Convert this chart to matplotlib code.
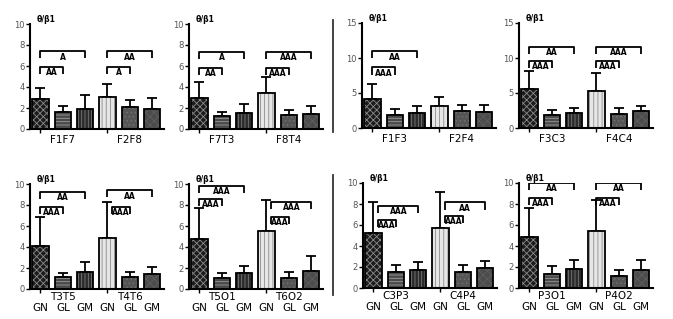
import matplotlib
matplotlib.use("Agg")
import matplotlib.pyplot as plt
from matplotlib.lines import Line2D

W, H = 673, 319

group_names = [
    ("F1F7", "F2F8"), ("F7T3", "F8T4"), ("F1F3", "F2F4"), ("F3C3", "F4C4"),
    ("T3T5", "T4T6"), ("T5O1", "T6O2"), ("C3P3", "C4P4"), ("P3O1", "P4O2"),
]
bar_names = ["GN", "GL", "GM"]
y_max = [10, 10, 15, 15, 10, 10, 10, 10]

means = [
    [2.9, 1.65, 1.95, 3.05, 2.05, 1.9],
    [3.0, 1.2, 1.55, 3.4, 1.3, 1.45],
    [4.1, 1.85, 2.1, 3.2, 2.4, 2.3],
    [5.55, 1.8, 2.2, 5.3, 2.0, 2.45],
    [4.05, 1.1, 1.6, 4.9, 1.1, 1.4],
    [4.8, 1.05, 1.5, 5.55, 1.05, 1.75],
    [5.25, 1.5, 1.75, 5.7, 1.5, 1.9],
    [4.9, 1.3, 1.8, 5.4, 1.1, 1.75],
]
errors = [
    [1.0, 0.5, 1.3, 1.2, 0.75, 1.05],
    [1.5, 0.4, 0.85, 1.55, 0.55, 0.7],
    [2.2, 0.9, 1.1, 1.25, 0.95, 1.0],
    [2.55, 0.8, 0.7, 2.6, 0.9, 0.75],
    [2.8, 0.4, 0.95, 3.35, 0.55, 0.65],
    [2.9, 0.5, 0.7, 2.95, 0.6, 1.35],
    [2.95, 0.65, 0.7, 3.4, 0.65, 0.7],
    [2.7, 0.8, 0.85, 3.0, 0.6, 0.9],
]
# (from bar, to bar, height, label)
brackets = [
    [(0, 1, 5.95, "AA"), (0, 2, 7.4, "A"), (3, 4, 5.95, "A"), (3, 5, 7.4, "AA")],
    [(0, 1, 5.8, "AA"), (0, 2, 7.35, "A"), (3, 4, 5.8, "AAA"), (3, 5, 7.35, "AAA")],
    [(0, 1, 8.65, "AAA"), (0, 2, 10.95, "AA")],
    [(0, 1, 9.6, "AAA"), (0, 2, 11.6, "AA"), (3, 4, 9.6, "AAA"), (3, 5, 11.6, "AAA")],
    [(0, 1, 7.85, "AAA"), (0, 2, 9.25, "AA"), (3, 4, 7.85, "AAA"), (3, 5, 9.4, "AA")],
    [(0, 1, 8.6, "AAA"), (0, 2, 9.85, "AAA"), (3, 4, 6.85, "AAA"), (3, 5, 8.3, "AAA")],
    [(0, 1, 6.5, "AAA"), (0, 2, 7.85, "AAA"), (3, 4, 6.85, "AAA"), (3, 5, 8.15, "AA")],
    [(0, 1, 8.55, "AAA"), (0, 2, 10.0, "AA"), (3, 4, 8.55, "AAA"), (3, 5, 10.0, "AA")],
]

# fill, hatch, hatch colour for the six bars of a panel
styles = [
    ("#1c1c1c", "xxxxx", "#8a8a8a"),
    ("#4a4a4a", "-----", "#9a9a9a"),
    ("#2a2a2a", "|||||", "#7a7a7a"),
    ("#e6e6e6", "||||", "#8c8c8c"),
    ("#555555", "....", "#707070"),
    ("#4c4c4c", "xxxx", "#5e5e5e"),
]

# axes placement in pixels: left, y of top value, y of zero
left_px = [30, 189, 362, 519, 30, 189, 363, 519]
top_px = [24, 24, 23, 23, 184, 184, 183, 183]
zero_px = [129, 129, 128, 128, 289, 289, 288, 288]
AX_W = 134

plt.rcParams["font.family"] = "DejaVu Sans"
plt.rcParams["hatch.linewidth"] = 0.6

fig = plt.figure(figsize=(W / 100, H / 100), dpi=100)

for p in range(8):
    ax = fig.add_axes([left_px[p] / W, 1 - zero_px[p] / H,
                       AX_W / W, (zero_px[p] - top_px[p]) / H])
    x = list(range(6))
    for i in x:
        fc, hatch, hc = styles[i]
        ax.bar(i, means[p][i], width=0.72, color=fc, edgecolor=hc,
               hatch=hatch, linewidth=0, zorder=2)
        ax.bar(i, means[p][i], width=0.72, fill=False, edgecolor="black",
               linewidth=1.3, zorder=3)
        ax.errorbar(i, means[p][i], yerr=[[0], [errors[p][i]]], fmt="none",
                    ecolor="black", elinewidth=1.3, capsize=3.5,
                    capthick=1.3, zorder=1)

    ym = y_max[p]
    drop = 0.068 * ym
    for a, b, h, lab in brackets[p]:
        xa = a + (0.22 if means[p][a] + errors[p][a] > h else 0)
        ax.plot([xa, xa, b, b], [h - drop, h, h, h - drop],
                color="black", lw=1.3, solid_capstyle="butt", zorder=4)
        ax.text((xa + b) / 2, h - 0.012 * ym, lab, ha="center", va="top",
                fontsize=5.5, fontweight="bold", zorder=4)

    ax.set_xlim(-0.47, 5.53)
    ax.set_ylim(0, ym)
    ax.set_yticks(range(0, ym + 1, 2 if ym == 10 else 5))
    ax.tick_params(axis="y", labelsize=6, labelcolor="#555555",
                   length=3, width=1.0, pad=1)
    ax.set_xticks([0, 3])
    ax.set_xticklabels([])
    ax.tick_params(axis="x", length=3, width=1.0)
    for s in ("top", "right"):
        ax.spines[s].set_visible(False)
    for s in ("left", "bottom"):
        ax.spines[s].set_linewidth(1.5)

    ax.text(0.05, 1.0, "θ/β1", transform=ax.transAxes, fontsize=5.5,
            fontweight="bold", ha="left", va="bottom")

    bottom_row = p >= 4
    for g, name in enumerate(group_names[p]):
        ax.annotate(name, xy=(1 + 3 * g, 0), xycoords=("data", "axes fraction"),
                    xytext=(0, -2.5 if bottom_row else -4.5),
                    textcoords="offset points", ha="center", va="top",
                    fontsize=7.5)
        if bottom_row:
            for k, bn in enumerate(bar_names):
                ax.annotate(bn, xy=(3 * g + k, 0),
                            xycoords=("data", "axes fraction"),
                            xytext=(0, -10), textcoords="offset points",
                            ha="center", va="top", fontsize=7.5)

# vertical separators between the two halves
for y0, y1 in [(20, 132), (175, 295)]:
    fig.add_artist(Line2D([333 / W, 333 / W], [1 - y0 / H, 1 - y1 / H],
                          color="#333333", lw=1.3))

fig.savefig("out.png", dpi=100)
plt.close(fig)
